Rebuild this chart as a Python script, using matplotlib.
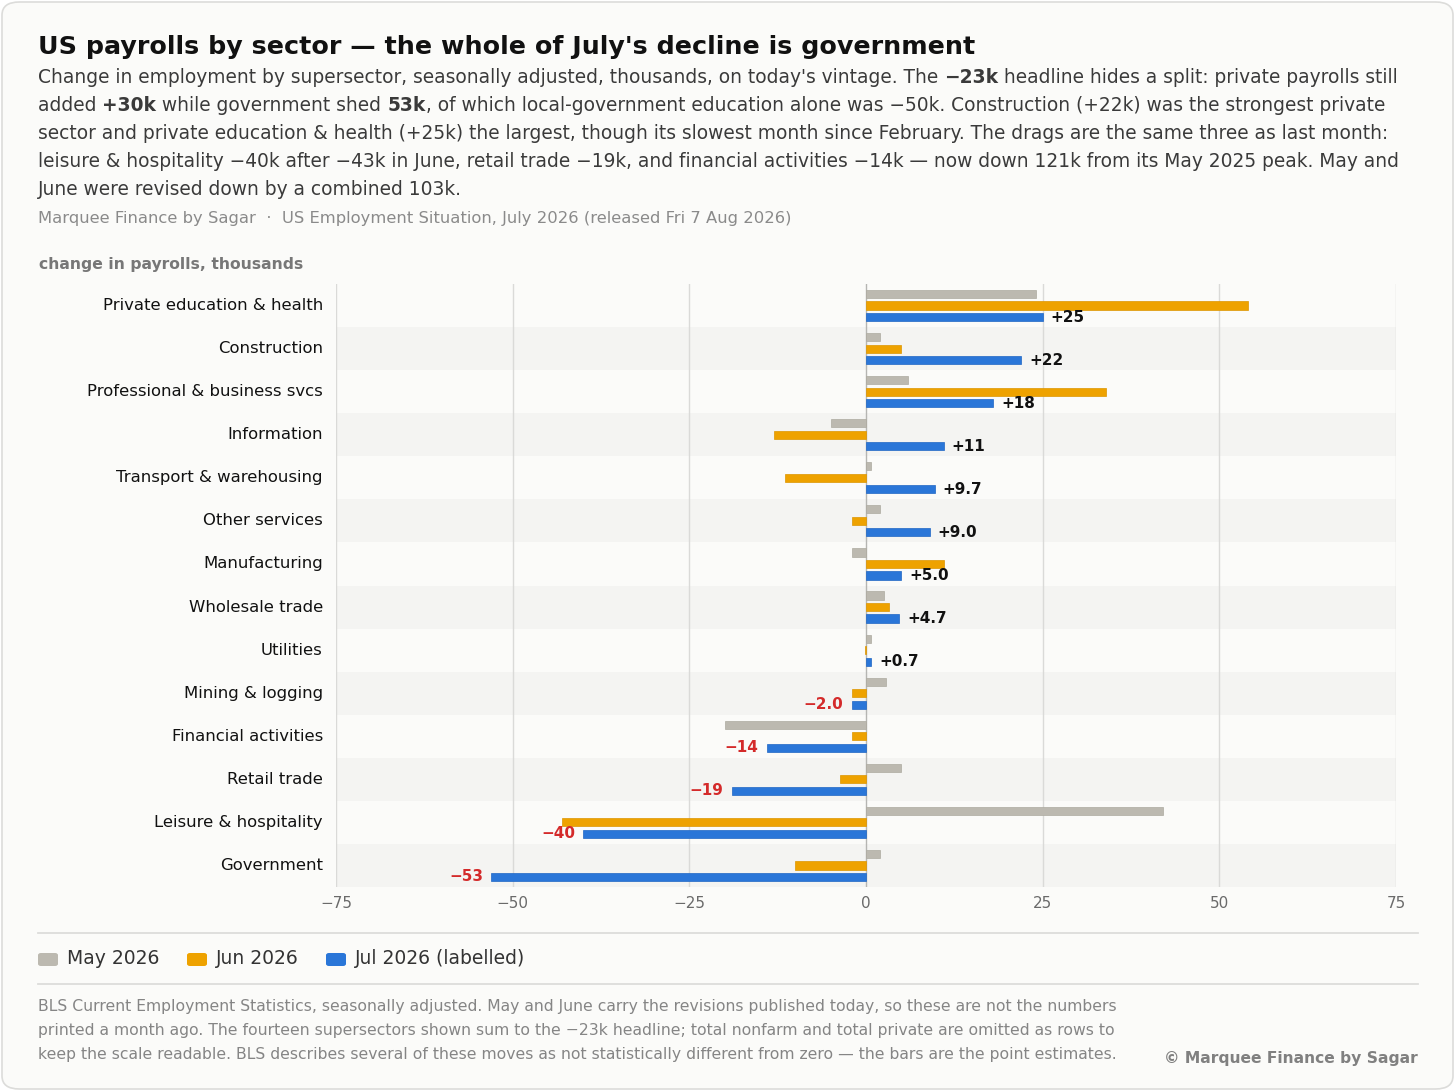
import matplotlib
matplotlib.use("Agg")
import matplotlib.pyplot as plt
from matplotlib.patches import FancyBboxPatch
import numpy as np

W, H = 1456, 1092

sectors = [
    "Private education & health", "Construction", "Professional & business svcs",
    "Information", "Transport & warehousing", "Other services", "Manufacturing",
    "Wholesale trade", "Utilities", "Mining & logging", "Financial activities",
    "Retail trade", "Leisure & hospitality", "Government",
]
may_2026 = [24.0, 2.0, 6.0, -5.0, 0.7, 2.0, -2.0, 2.5, 0.7, 2.9, -20.0, 5.0, 42.0, 2.0]
jun_2026 = [54.0, 5.0, 34.0, -13.0, -11.4, -2.0, 11.0, 3.3, -0.2, -2.0, -2.0, -3.7, -43.0, -10.0]
jul_2026 = [25.0, 22.0, 18.0, 11.0, 9.7, 9.0, 5.0, 4.7, 0.7, -2.0, -14.0, -19.0, -40.0, -53.0]
jul_labels = ["+25", "+22", "+18", "+11", "+9.7", "+9.0", "+5.0", "+4.7", "+0.7",
              "\u22122.0", "\u221214", "\u221219", "\u221240", "\u221253"]
x_ticks = [-75, -50, -25, 0, 25, 50, 75]
x_ticklabels = ["\u221275", "\u221250", "\u221225", "0", "25", "50", "75"]

C_MAY, C_JUN, C_JUL = "#bcb9b0", "#eea200", "#2a76d8"
C_NEG = "#d42a2a"
BG = "#fbfbf9"

plt.rcParams["font.family"] = ["DejaVu Sans"]

fig = plt.figure(figsize=(W / 100, H / 100), dpi=100, facecolor="white")


def fx(px):
    return px / W


def fy(py):
    return 1 - py / H


# card
fig.patches.append(FancyBboxPatch((fx(2), fy(1089)), fx(1451), 1087 / H,
                                  boxstyle="round,pad=0,rounding_size=0.012",
                                  transform=fig.transFigure, facecolor=BG,
                                  edgecolor="#dcdcda", linewidth=1.2, zorder=-5))


def rich_line(px, py, parts, size, color):
    renderer = fig.canvas.get_renderer()
    x = fx(px)
    for txt, weight in parts:
        t = fig.text(x, fy(py), txt, fontsize=size, color=color,
                     fontweight=weight, va="baseline", ha="left")
        bb = t.get_window_extent(renderer)
        x += bb.width / W


fig.text(fx(38), fy(54), "US payrolls by sector \u2014 the whole of July's decline is government",
         fontsize=18.25, fontweight="bold", color="#111111", va="baseline")

sub = "#3a3a3a"
ss = 13.4
rich_line(38, 83, [("Change in employment by supersector, seasonally adjusted, thousands, on today's vintage. The ", "normal"),
                   ("\u221223k", "bold"), (" headline hides a split: private payrolls still", "normal")], ss, sub)
rich_line(38, 111, [("added ", "normal"), ("+30k", "bold"), (" while government shed ", "normal"), ("53k", "bold"),
                    (", of which local-government education alone was \u221250k. Construction (+22k) was the strongest private", "normal")], ss, sub)
rich_line(38, 139, [("sector and private education & health (+25k) the largest, though its slowest month since February. The drags are the same three as last month:", "normal")], ss, sub)
rich_line(38, 167, [("leisure & hospitality \u221240k after \u221243k in June, retail trade \u221219k, and financial activities \u221214k \u2014 now down 121k from its May 2025 peak. May and", "normal")], ss, sub)
rich_line(38, 195, [("June were revised down by a combined 103k.", "normal")], ss, sub)

fig.text(fx(38), fy(223), "Marquee Finance by Sagar  \u00b7  US Employment Situation, July 2026 (released Fri 7 Aug 2026)",
         fontsize=11.8, color="#8a8a8a", va="baseline")
fig.text(fx(39), fy(269), "change in payrolls, thousands", fontsize=11.25, fontweight="bold",
         color="#777777", va="baseline")

# main axes
ax = fig.add_axes([fx(336), fy(887), fx(1396) - fx(336), (887 - 284) / H])
ax.set_facecolor(BG)
n = len(sectors)
y = np.arange(n)
for i in range(n):
    if i % 2 == 1:
        ax.axhspan(i - 0.5, i + 0.5, color="#f4f4f2", zorder=0, lw=0)
for t in x_ticks:
    ax.axvline(t, color="#dadad8" if t != 0 else "#b5b5b2", lw=1.0, zorder=1)

bh = 0.19
off = 0.267
ax.barh(y - off, may_2026, height=bh, color=C_MAY, edgecolor="#adaaa0", lw=0.5, zorder=3)
ax.barh(y, jun_2026, height=bh, color=C_JUN, edgecolor="#dd9500", lw=0.5, zorder=3)
ax.barh(y + off, jul_2026, height=bh, color=C_JUL, edgecolor="#1f66c4", lw=0.5, zorder=3)

for i, (v, lab) in enumerate(zip(jul_2026, jul_labels)):
    if v >= 0:
        ax.annotate(lab, (v, i + off), xytext=(5.8, 0), textcoords="offset points",
                    ha="left", va="center", fontsize=11, fontweight="bold", color="#111111", zorder=4)
    else:
        ax.annotate(lab, (v, i + off), xytext=(-6, 0), textcoords="offset points",
                    ha="right", va="center", fontsize=11, fontweight="bold", color=C_NEG, zorder=4)

ax.set_xlim(-75, 75)
ax.set_ylim(n - 0.5, -0.5)
ax.set_xticks(x_ticks)
ax.set_xticklabels(x_ticklabels, fontsize=11, color="#6a6a6a")
ax.set_yticks(y)
ax.set_yticklabels(sectors, fontsize=11.85, color="#111111", va="center")
ax.tick_params(axis="both", length=0)
ax.tick_params(axis="x", pad=6.5)
ax.tick_params(axis="y", pad=9.5)
for s in ax.spines.values():
    s.set_visible(False)

# legend area
for py in (933, 984):
    fig.add_artist(plt.Line2D([fx(38), fx(1418)], [fy(py), fy(py)], color="#dddddb", lw=1.3))
leg_items = [("May 2026", C_MAY, 38), ("Jun 2026", C_JUN, 187), ("Jul 2026 (labelled)", C_JUL, 326)]
for lab, col, px in leg_items:
    fig.patches.append(FancyBboxPatch((fx(px), fy(966)), fx(20), 13 / H,
                                      boxstyle="round,pad=0,rounding_size=0.002",
                                      transform=fig.transFigure, facecolor=col, edgecolor="none"))
    fig.text(fx(px + 29), fy(959), lab, fontsize=13.5, color="#333333", va="center")

foot = ["BLS Current Employment Statistics, seasonally adjusted. May and June carry the revisions published today, so these are not the numbers",
        "printed a month ago. The fourteen supersectors shown sum to the \u221223k headline; total nonfarm and total private are omitted as rows to",
        "keep the scale readable. BLS describes several of these moves as not statistically different from zero \u2014 the bars are the point estimates."]
for k, line in enumerate(foot):
    fig.text(fx(38), fy(1007 + 24 * k), line, fontsize=11.25, color="#858585", va="center")
fig.text(fx(1418), fy(1058), "\u00a9 Marquee Finance by Sagar", fontsize=11.2, fontweight="bold",
         color="#808080", va="center", ha="right")

fig.savefig("out.png", dpi=100, facecolor="white")
